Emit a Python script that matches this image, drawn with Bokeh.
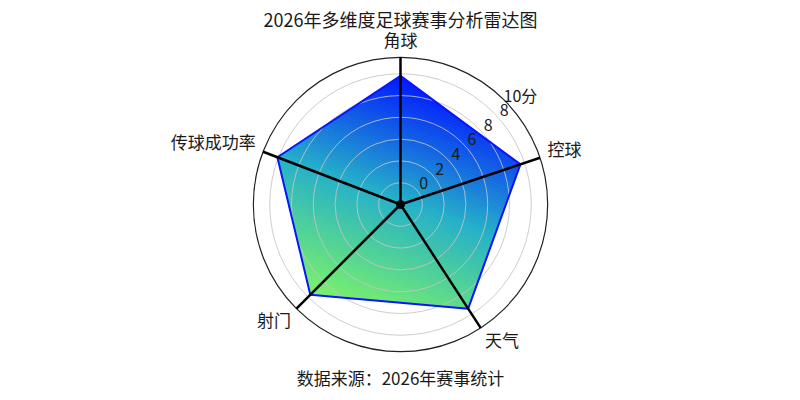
import numpy as np
from bokeh.plotting import figure
from bokeh.models import Range1d
from bokeh.core.properties import value
from bokeh.embed import file_html
from bokeh.resources import INLINE

# ---------------- data ----------------
title_text = "2026年多维度足球赛事分析雷达图"
source_text = "数据来源：2026年赛事统计"
categories = ["角球", "控球", "天气", "射门", "传球成功率"]
scores = [9.8, 9.6, 9.4, 9.7, 10.1]
ring_values = [0, 2, 4, 6, 8, 10]
r_tick_values = [0, 2, 4, 6, 8, 10, 12]
r_tick_labels = ["0", "2", "4", "6", "8", "8", "10分"]
r_max = 11.5

# ---------------- layout ----------------
axis_angle_deg = [90, 18.5, -57, -135, 159]
R_OFFSET = 2.0          # radial coordinate of value 0
PX = 10.9               # pixels per unit
W, H = 784, 392
CX, CY = 400, 204       # centre in canvas px (from top-left)
FONT = "Noto Sans CJK SC"
TXT = "#1a1a1a"


def py2y(img_y):
    return (CY - img_y) / PX


def rho(v):
    return np.asarray(v, dtype=float) + R_OFFSET


p = figure(width=W, height=H,
           x_range=Range1d(-CX / PX, (W - CX) / PX),
           y_range=Range1d(-(H - CY) / PX, CY / PX),
           output_backend="svg", toolbar_location=None,
           x_axis_type=None, y_axis_type=None, min_border=0)
p.grid.visible = False
p.outline_line_color = None
p.background_fill_color = "white"
p.border_fill_color = "white"

ang = np.deg2rad(axis_angle_deg)
rr = rho(scores)
px_ = rr * np.cos(ang)
py_ = rr * np.sin(ang)
poly = list(zip(px_, py_))


# ---- gradient fill (bands clipped from the polygon) ----
def clip(poly, nx, ny, c):
    """keep part with nx*x+ny*y >= c"""
    out = []
    n = len(poly)
    for i in range(n):
        a = poly[i]
        b = poly[(i + 1) % n]
        da = nx * a[0] + ny * a[1] - c
        db = nx * b[0] + ny * b[1] - c
        if da >= 0:
            out.append(a)
        if (da >= 0) != (db >= 0):
            t = da / (da - db)
            out.append((a[0] + t * (b[0] - a[0]), a[1] + t * (b[1] - a[1])))
    return out


tilt = np.deg2rad(20)
ux, uy = -np.sin(tilt), -np.cos(tilt)
proj = [ux * x + uy * y for x, y in poly]
tmin, tmax = min(proj), max(proj)
stops = [(0.0, (0, 22, 255)), (0.5, (36, 176, 200)), (1.0, (124, 242, 104))]


def cmap(t):
    for (t0, c0), (t1, c1) in zip(stops[:-1], stops[1:]):
        if t <= t1:
            f = (t - t0) / (t1 - t0)
            c = [int(round(c0[k] + f * (c1[k] - c0[k]))) for k in range(3)]
            return "#%02x%02x%02x" % tuple(c)
    return "#%02x%02x%02x" % stops[-1][1]


NB = 90
edges = np.linspace(tmin, tmax, NB + 1)
xs, ys, cols = [], [], []
for i in range(NB):
    part = clip(poly, ux, uy, edges[i])
    part = clip(part, -ux, -uy, -edges[i + 1])
    if len(part) < 3:
        continue
    xs.append([q[0] for q in part])
    ys.append([q[1] for q in part])
    cols.append(cmap((i + 0.5) / NB))
p.patches(xs, ys, fill_color=cols, line_color=cols, line_width=0.8)

# ---- rings ----
p.circle(x=0, y=0, radius=rho(ring_values), fill_color=None,
         line_color="#c4c4c4", line_alpha=0.85, line_width=1)
p.circle(x=0, y=0, radius=rho(r_max), fill_color=None,
         line_color="#222222", line_width=1.2)

# ---- outline ----
p.patch(list(px_), list(py_), fill_color=None, line_color="#0a14ff", line_width=2)

# ---- spokes ----
R_out = rho(r_max)
p.segment(x0=0, y0=0, x1=R_out * np.cos(ang), y1=R_out * np.sin(ang),
          line_color="black", line_width=2.5)
p.scatter(x=[0], y=[0], size=8, color="black")

# ---- radial tick labels ----
lab_ang = np.deg2rad(42.3)
lr = rho(r_tick_values) + 9.5 / PX
p.text(x=lr * np.cos(lab_ang), y=lr * np.sin(lab_ang), text=r_tick_labels,
       text_align="center", text_baseline="middle", text_font_size="16px",
       text_font=value(FONT), text_color=TXT)

# ---- category labels ----
cr = (155 / PX)
for a, name in zip(ang, categories):
    c, s = np.cos(a), np.sin(a)
    align = "left" if c > 0.3 else ("right" if c < -0.3 else "center")
    base = "bottom" if s > 0.5 else ("top" if s < -0.5 else "middle")
    yo = {"bottom": 2, "middle": -7, "top": -7}[base]
    p.text(x=[cr * c], y=[cr * s], text=[name], text_align=align,
           text_baseline=base, text_font_size="17px", y_offset=yo,
           text_font=value(FONT), text_color=TXT)

# ---- title and source ----
p.text(x=[0], y=[py2y(18.5)], text=[title_text], text_align="center",
       text_baseline="middle", text_font_size="18px",
       text_font=value(FONT), text_color=TXT)
p.text(x=[0], y=[py2y(377)], text=[source_text], text_align="center",
       text_baseline="middle", text_font_size="17px",
       text_font=value(FONT), text_color=TXT)

open("out.html", "w").write(file_html(p, INLINE))
